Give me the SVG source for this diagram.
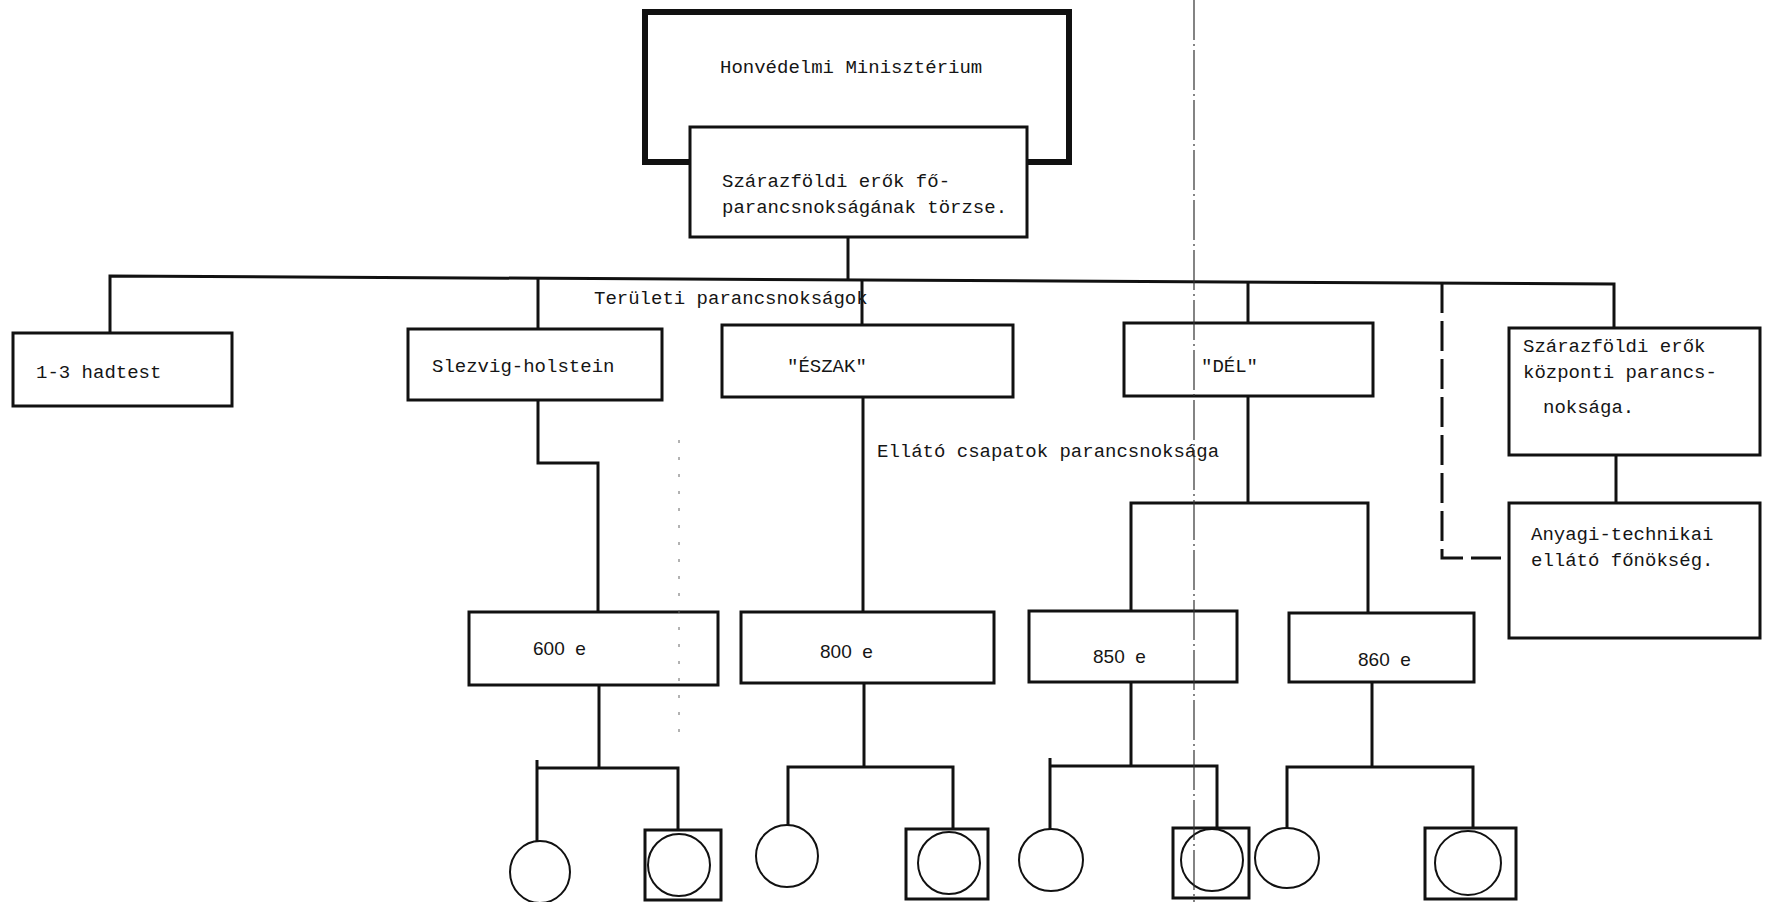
<svg xmlns="http://www.w3.org/2000/svg" width="1767" height="902" viewBox="0 0 1767 902">
<style>
.box{fill:#fff;stroke:#111;stroke-width:3}
.thick{fill:none;stroke:#111;stroke-width:6}
.t{font-family:"Liberation Mono","DejaVu Sans Mono",monospace;font-size:19px;fill:#151515}
.n{font-family:"Liberation Sans",Arial,sans-serif;font-size:19px;fill:#151515}
.c{fill:none;stroke:#111;stroke-width:3}
.cr{fill:#fff;stroke:#111;stroke-width:2}
.sq{fill:#fff;stroke:#111;stroke-width:3}
.dash{fill:none;stroke:#111;stroke-width:3;stroke-dasharray:30 8}
.scan{fill:none;stroke:#333;stroke-width:1.2;stroke-dasharray:40 4 2 4}
.faint{fill:none;stroke:#666;stroke-width:1;stroke-dasharray:3 14}
</style>
<rect width="1767" height="902" fill="#fff"/>

<g id="connectors">
  <line class="c" x1="848" y1="237" x2="848" y2="280"/>
  <polyline class="c" points="110,333 110,276 1614,284 1614,328"/>
  <line class="c" x1="538" y1="278" x2="538" y2="329"/>
  <line class="c" x1="862" y1="280" x2="862" y2="325"/>
  <line class="c" x1="1248" y1="282" x2="1248" y2="323"/>
  <polyline class="dash" points="1442,283 1442,558 1509,558"/>
  <line class="c" x1="1616" y1="455" x2="1616" y2="503"/>
  <polyline class="c" points="538,400 538,463 598,463 598,612"/>
  <line class="c" x1="863" y1="397" x2="863" y2="612"/>
  <polyline class="c" points="1248,396 1248,503"/>
  <polyline class="c" points="1131,611 1131,503 1368,503 1368,613"/>
  <line class="c" x1="599" y1="685" x2="599" y2="768"/>
  <polyline class="c" points="537,843 537,760 537,768 678,768 678,830"/>
  <line class="c" x1="864" y1="683" x2="864" y2="767"/>
  <polyline class="c" points="788,825 788,767 953,767 953,830"/>
  <line class="c" x1="1131" y1="682" x2="1131" y2="766"/>
  <polyline class="c" points="1050,829 1050,758 1050,766 1217,766 1217,829"/>
  <line class="c" x1="1372" y1="682" x2="1372" y2="767"/>
  <polyline class="c" points="1287,828 1287,767 1473,767 1473,828"/>
</g>

<g id="n-hm">
  <rect class="thick" x="645" y="12" width="424" height="150"/>
  <text class="t" x="720" y="73">Honvédelmi Minisztérium</text>
</g>
<g id="n-szef">
  <rect class="box" x="690" y="127" width="337" height="110"/>
  <text class="t" x="722" y="187">Szárazföldi erők fő-</text>
  <text class="t" x="722" y="213">parancsnokságának törzse.</text>
</g>
<g id="label-teruleti">
  <text class="t" x="594" y="304">Területi parancsnokságok</text>
</g>
<g id="n-hadtest">
  <rect class="box" x="13" y="333" width="219" height="73"/>
  <text class="t" x="36" y="378">1-3 hadtest</text>
</g>
<g id="n-slezvig">
  <rect class="box" x="408" y="329" width="254" height="71"/>
  <text class="t" x="432" y="372">Slezvig-holstein</text>
</g>
<g id="n-eszak">
  <rect class="box" x="722" y="325" width="291" height="72"/>
  <text class="t" x="787" y="372">"ÉSZAK"</text>
</g>
<g id="n-del">
  <rect class="box" x="1124" y="323" width="249" height="73"/>
  <text class="t" x="1201" y="372">"DÉL"</text>
</g>
<g id="n-kozp">
  <rect class="box" x="1509" y="328" width="251" height="127"/>
  <text class="t" x="1523" y="352">Szárazföldi erők</text>
  <text class="t" x="1523" y="378">központi parancs-</text>
  <text class="t" x="1543" y="413">noksága.</text>
</g>
<g id="n-anyagi">
  <rect class="box" x="1509" y="503" width="251" height="135"/>
  <text class="t" x="1531" y="540">Anyagi-technikai</text>
  <text class="t" x="1531" y="566">ellátó főnökség.</text>
</g>
<g id="label-ellato">
  <text class="t" x="877" y="457">Ellátó csapatok parancsnoksága</text>
</g>

<g id="n-600">
  <rect class="box" x="469" y="612" width="249" height="73"/>
  <text class="n" x="533" y="655" xml:space="preserve">600  e</text>
</g>
<g id="n-800">
  <rect class="box" x="741" y="612" width="253" height="71"/>
  <text class="n" x="820" y="658" xml:space="preserve">800  e</text>
</g>
<g id="n-850">
  <rect class="box" x="1029" y="611" width="208" height="71"/>
  <text class="n" x="1093" y="663" xml:space="preserve">850  e</text>
</g>
<g id="n-860">
  <rect class="box" x="1289" y="613" width="185" height="69"/>
  <text class="n" x="1358" y="666" xml:space="preserve">860  e</text>
</g>

<g id="u-600-a"><ellipse class="cr" cx="540" cy="872" rx="30" ry="31"/></g>
<g id="u-600-b"><rect class="sq" x="645" y="830" width="76" height="70"/><ellipse class="cr" cx="679" cy="865" rx="31" ry="31"/></g>
<g id="u-800-a"><ellipse class="cr" cx="787" cy="856" rx="31" ry="31"/></g>
<g id="u-800-b"><rect class="sq" x="906" y="829" width="82" height="70"/><ellipse class="cr" cx="949" cy="863" rx="31" ry="31"/></g>
<g id="u-850-a"><ellipse class="cr" cx="1051" cy="860" rx="32" ry="31"/></g>
<g id="u-850-b"><rect class="sq" x="1173" y="828" width="76" height="70"/><ellipse class="cr" cx="1212" cy="860" rx="31" ry="31"/></g>
<g id="u-860-a"><ellipse class="cr" cx="1287" cy="858" rx="32" ry="30"/></g>
<g id="u-860-b"><rect class="sq" x="1425" y="828" width="91" height="71"/><ellipse class="cr" cx="1468" cy="863" rx="33" ry="32"/></g>

<g id="scan-marks">
  <line class="scan" x1="1194" y1="0" x2="1194" y2="902"/>
  <line class="faint" x1="679" y1="440" x2="679" y2="740"/>
</g>
</svg>
